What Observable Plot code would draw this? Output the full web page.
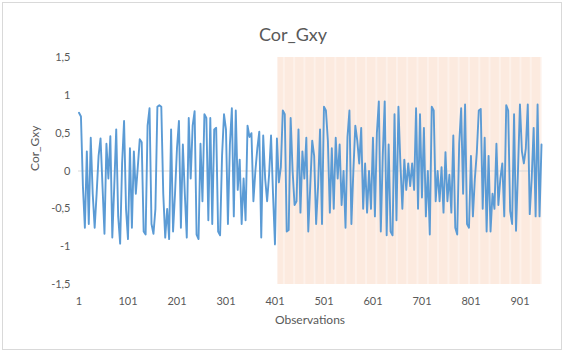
<!DOCTYPE html>
<html><head><meta charset="utf-8">
<script src="https://cdn.jsdelivr.net/npm/d3@7"></script>
<script src="https://cdn.jsdelivr.net/npm/@observablehq/plot@0.6"></script>
<style>
body{margin:0;background:#fff;}
#wrap{position:relative;width:565px;height:351px;overflow:hidden;}
#border{position:absolute;left:2px;top:2px;width:558px;height:346px;border:1px solid #d9d9d9;pointer-events:none;}
</style></head><body>
<div id="wrap"><div id="chart"></div><div id="border"></div></div>
<script>
// Cor_Gxy values, one every 4 observations (obs 1, 5, 9, ...)
const corGxy = [
 0.77, 0.72, -0.2, -0.75, 0.26, -0.7, 0.44, -0.3, -0.75, -0.3,
 0.2, 0.43, -0.2, -0.83, 0.36, -0.1, 0.46, -0.88, -0.2, 0.55,
 -0.6, -0.96, 0.1, 0.66, -0.5, -0.9, 0.3, -0.75, 0.26, -0.3,
 0.05, 0.42, 0.38, -0.8, -0.84, 0.6, 0.83, -0.7, -0.83, -0.5,
 0.85, 0.87, 0.85, -0.3, -0.88, -0.5, -0.9, 0.55, -0.8, -0.3,
 0.3, 0.66, -0.75, 0.35, -0.3, -0.88, 0.7, -0.1, 0.6, 0.79,
 -0.84, -0.9, 0.36, -0.4, 0.75, 0.7, -0.65, 0.7, -0.7, 0.55,
 0.57, -0.8, -0.85, 0.2, 0.75, 0.55, -0.7, 0.35, 0.83, -0.6,
 0.8, -0.25, 0.15, -0.7, -0.1, -0.65, 0.6, 0.45, 0.5, -0.4,
 0.0, 0.3, 0.52, -0.88, 0.47, -0.1, -0.4, -0.05, 0.47, -0.3,
 -0.97, 0.43, -0.15, 0.05, 0.8, 0.75, -0.8, -0.78, 0.7, 0.0,
 -0.45, -0.4, 0.55, -0.55, 0.26, -0.1, 0.44, -0.8, -0.2, 0.4,
 0.2, -0.7, -0.2, 0.55, -0.7, 0.85, 0.8, 0.4, -0.55, 0.3,
 -0.5, 0.44, -0.1, 0.35, -0.45, 0.0, -0.75, 0.45, 0.8, -0.7,
 0.0, 0.6, 0.4, 0.1, 0.57, -0.5, 0.1, -0.55, 0.0, -0.5,
 0.44, -0.6, 0.5, 0.92, -0.8, 0.2, 0.92, -0.85, 0.35, -0.8,
 -0.85, 0.75, -0.65, 0.85, 0.1, -0.5, 0.15, -0.25, 0.1, -0.2,
 0.1, -0.25, 0.83, -0.5, 0.75, -0.35, 0.57, -0.6, 0.0, -0.84,
 0.85, 0.8, -0.4, 0.0, -0.4, 0.05, -0.55, 0.25, -0.4, -0.05,
 -0.55, 0.47, -0.75, -0.84, 0.36, 0.83, -0.3, 0.88, -0.7, -0.75,
 0.2, -0.6, -0.1, 0.25, 0.8, 0.82, -0.5, 0.44, -0.8, 0.2,
 -0.8, -0.3, -0.5, 0.36, -0.45, -0.1, 0.1, -0.6, 0.87, 0.8,
 -0.53, -0.7, 0.75, -0.79, 0.0, 0.88, 0.26, 0.1, 0.3, 0.88,
 -0.57, -0.1, 0.57, -0.6, 0.88, -0.6, 0.35
];
const obsStep = 4;
const firstObs = 1;
const xTicks = [1, 101, 201, 301, 401, 501, 601, 701, 801, 901];
const yTicks = [-1.5, -1, -0.5, 0, 0.5, 1, 1.5];
const shadeStart = 407;
const shadeEnd = 945;
const titleText = "Cor_Gxy";
const yTitle = "Cor_Gxy";
const xTitle = "Observations";

const data = corGxy.map((v, i) => ({obs: firstObs + i * obsStep, v}));
const stripes = d3.range(shadeStart + 12, shadeEnd, 21);

const plot = Plot.plot({
  width: 565, height: 351,
  marginLeft: 78, marginRight: 24, marginTop: 57, marginBottom: 67,
  style: {fontFamily: "Lato, 'Open Sans', sans-serif", color: "#595959", background: "transparent", overflow: "visible"},
  x: {domain: [0, 945], axis: null},
  y: {domain: [-1.5, 1.5], axis: null},
  marks: [
    Plot.rect([{a: shadeStart, b: shadeEnd}], {x1: d => d.a, x2: d => d.b, y1: () => -1.5, y2: () => 1.5, fill: "#fceadf"}),
    Plot.ruleX(stripes, {x: d => d, y1: -1.5, y2: 1.5, stroke: "#fdf4ee", strokeWidth: 2, strokeOpacity: 0.7}),
    Plot.ruleY([0], {stroke: "#d9d9d9", strokeWidth: 1}),
    Plot.line(data, {x: "obs", y: "v", stroke: "#5b9bd5", strokeWidth: 1.9, strokeLinejoin: "round"}),
    Plot.axisX(xTicks, {anchor: "bottom", tickSize: 0, tickPadding: 13, fontSize: 11, tickFormat: d => String(d), label: null, fill: "#595959"}),
    Plot.axisY(yTicks, {anchor: "left", tickSize: 0, tickPadding: 8, fontSize: 11, tickFormat: d => String(d).replace(".", ","), label: null, fill: "#595959"}),
    Plot.text([titleText], {frameAnchor: "top", dx: -17, dy: -29, fontSize: 18, fill: "#595959"}),
    Plot.text([xTitle], {frameAnchor: "bottom", dy: 39, fontSize: 12, fill: "#595959"}),
    Plot.text([yTitle], {frameAnchor: "left", dx: -43, rotate: -90, fontSize: 12, fill: "#595959"})
  ]
});
document.getElementById("chart").appendChild(plot);
</script>
</body></html>
